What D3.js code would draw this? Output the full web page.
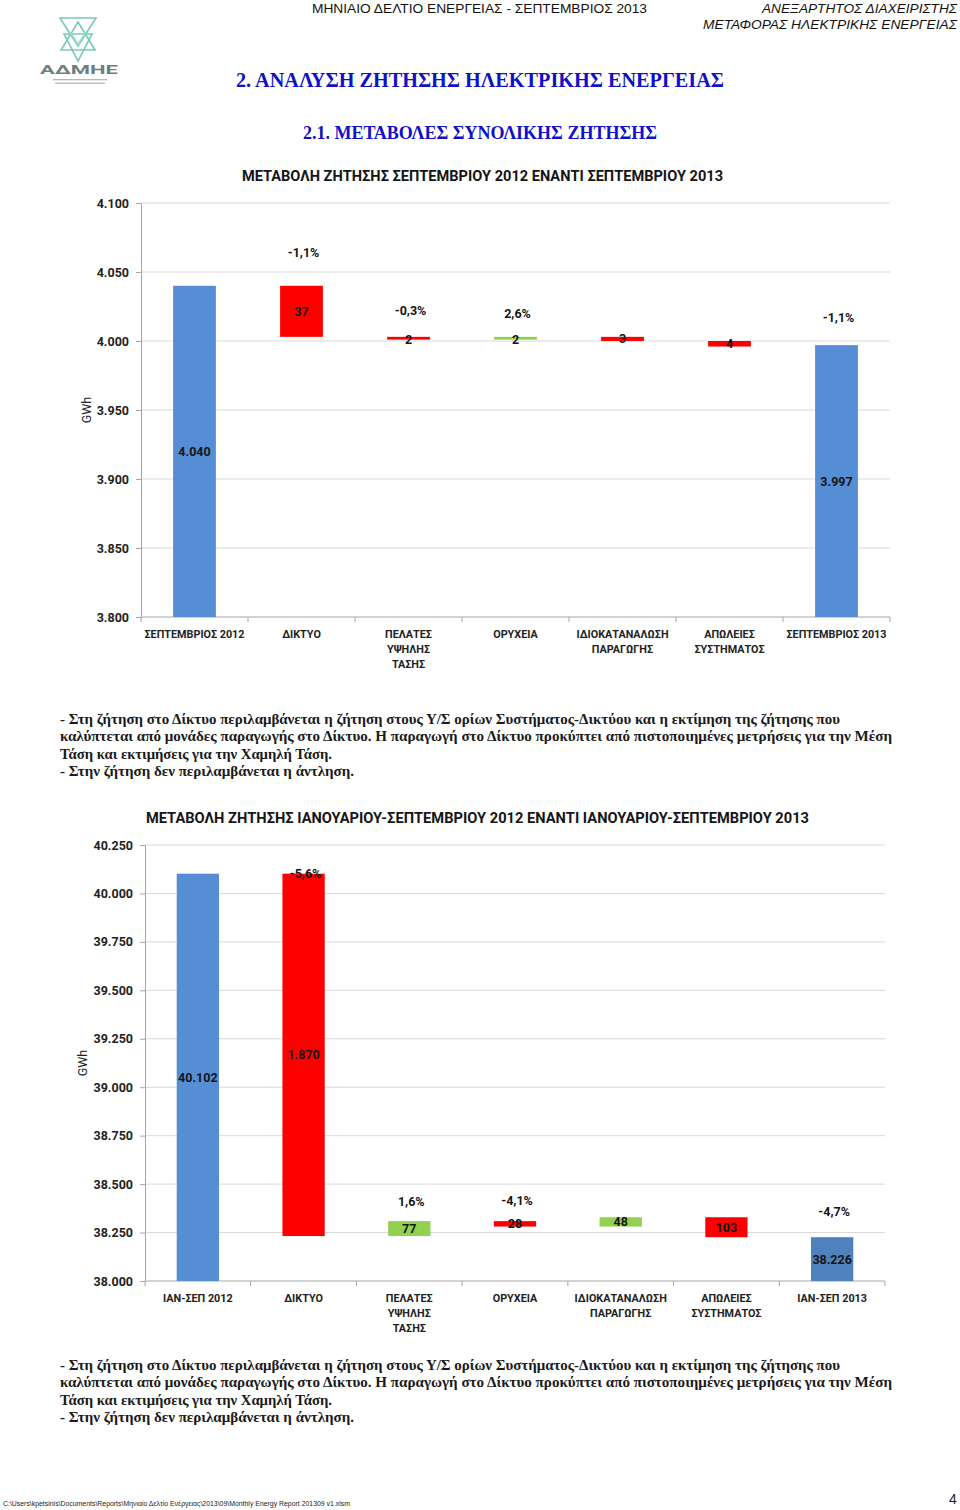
<!DOCTYPE html>
<html><head><meta charset="utf-8">
<script src="https://cdn.jsdelivr.net/npm/d3@7"></script>
<style>body{margin:0;background:#fff}svg{display:block}</style>
</head><body><div id="c"></div>
<script>
// ---------------- DATA ----------------
const monthCategories = ["ΣΕΠΤΕΜΒΡΙΟΣ 2012","ΔΙΚΤΥΟ","ΠΕΛΑΤΕΣ|ΥΨΗΛΗΣ|ΤΑΣΗΣ","ΟΡΥΧΕΙΑ","ΙΔΙΟΚΑΤΑΝΑΛΩΣΗ|ΠΑΡΑΓΩΓΗΣ","ΑΠΩΛΕΙΕΣ|ΣΥΣΤΗΜΑΤΟΣ","ΣΕΠΤΕΜΒΡΙΟΣ 2013"];
const monthStart = 4040;
const monthDeltas = [-37, -2, 2, -3, -4];
const monthEnd = 3997;
const monthPct = [null, "-1,1%", "-0,3%", "2,6%", null, null, "-1,1%"];
const monthPctLevel = [null, 4064, 4022, 4020, null, null, 4017];
const monthTicks = [3800, 3850, 3900, 3950, 4000, 4050, 4100];

const ytdCategories = ["ΙΑΝ-ΣΕΠ 2012","ΔΙΚΤΥΟ","ΠΕΛΑΤΕΣ|ΥΨΗΛΗΣ|ΤΑΣΗΣ","ΟΡΥΧΕΙΑ","ΙΔΙΟΚΑΤΑΝΑΛΩΣΗ|ΠΑΡΑΓΩΓΗΣ","ΑΠΩΛΕΙΕΣ|ΣΥΣΤΗΜΑΤΟΣ","ΙΑΝ-ΣΕΠ 2013"];
const ytdStart = 40102;
const ytdDeltas = [-1870, 77, -28, 48, -103];
const ytdEnd = 38226;
const ytdPct = [null, "-5,6%", "1,6%", "-4,1%", null, null, "-4,7%"];
const ytdPctLevel = [null, 40102, 38408, 38413, null, null, 38361];
const ytdTicks = [38000, 38250, 38500, 38750, 39000, 39250, 39500, 39750, 40000, 40250];

const notesLines = [
  "- Στη ζήτηση στο Δίκτυο περιλαμβάνεται η ζήτηση στους Υ/Σ ορίων Συστήματος-Δικτύου και η εκτίμηση της ζήτησης που",
  "καλύπτεται από μονάδες παραγωγής στο Δίκτυο. Η παραγωγή στο Δίκτυο προκύπτει από πιστοποιημένες μετρήσεις για την Μέση",
  "Τάση και εκτιμήσεις για την Χαμηλή Τάση.",
  "- Στην ζήτηση δεν περιλαμβάνεται η άντληση."
];

// ---------------- SETUP ----------------
const W = 960, H = 1510;
const SANS = "Roboto, 'Noto Sans', 'Liberation Sans', sans-serif";
const SERIF = "'Liberation Serif', 'DejaVu Serif', serif";
const NARROW = "'Liberation Sans Narrow', 'Liberation Sans', sans-serif";
const loc = d3.formatLocale({decimal: ",", thousands: ".", grouping: [3], currency: ["", ""]});
const fmt = loc.format(",d");

const svg = d3.select("#c").append("svg").attr("width", W).attr("height", H);
svg.append("rect").attr("width", W).attr("height", H).attr("fill", "#fff");

function fit(sel, width) {
  const n = sel.node();
  const len = n.getComputedTextLength();
  if (Math.abs(len - width) > 1) sel.attr("textLength", width).attr("lengthAdjust", "spacingAndGlyphs");
  return sel;
}

// ---------------- HEADER ----------------
fit(svg.append("text").attr("x", 312).attr("y", 8.5).attr("dominant-baseline", "central")
  .attr("font-family", NARROW).attr("font-size", 13.5).attr("fill", "#111")
  .text("ΜΗΝΙΑΙΟ ΔΕΛΤΙΟ ΕΝΕΡΓΕΙΑΣ - ΣΕΠΤΕΜΒΡΙΟΣ 2013"), 335);
fit(svg.append("text").attr("x", 762).attr("y", 8).attr("dominant-baseline", "central")
  .attr("font-family", NARROW).attr("font-style", "italic").attr("font-size", 13.5).attr("fill", "#111")
  .text("ΑΝΕΞΑΡΤΗΤΟΣ ΔΙΑΧΕΙΡΙΣΤΗΣ"), 195);
fit(svg.append("text").attr("x", 703).attr("y", 24).attr("dominant-baseline", "central")
  .attr("font-family", NARROW).attr("font-style", "italic").attr("font-size", 13.5).attr("fill", "#111")
  .text("ΜΕΤΑΦΟΡΑΣ ΗΛΕΚΤΡΙΚΗΣ ΕΝΕΡΓΕΙΑΣ"), 254);

// logo
const logo = svg.append("g").attr("fill", "none").attr("stroke", "#79c9b9").attr("stroke-width", 1.6);
logo.append("path").attr("d", "M60,18 L96,18 L78,46 Z");
logo.append("path").attr("d", "M78,22 L95,50 L61,50 Z");
logo.append("path").attr("d", "M64,34 L92,34 L78,61 Z");
logo.append("path").attr("d", "M70,32 L78,44 L86,32").attr("stroke", "#a6dccf");
fit(svg.append("text").attr("x", 40).attr("y", 69.5).attr("dominant-baseline", "central")
  .attr("font-family", SANS).attr("font-weight", "bold").attr("font-size", 12.5).attr("fill", "#6f7f80")
  .text("ΑΔΜΗΕ"), 78);
svg.append("rect").attr("x", 53).attr("y", 79).attr("width", 54).attr("height", 1.3).attr("fill", "#b0b8b8");
svg.append("rect").attr("x", 55).attr("y", 82.5).attr("width", 50).attr("height", 1.3).attr("fill", "#b0b8b8");

// section titles
fit(svg.append("text").attr("x", 236).attr("y", 80).attr("dominant-baseline", "central")
  .attr("font-family", SERIF).attr("font-weight", "bold").attr("font-size", 21).attr("fill", "#1010c8")
  .text("2. ΑΝΑΛΥΣΗ ΖΗΤΗΣΗΣ ΗΛΕΚΤΡΙΚΗΣ ΕΝΕΡΓΕΙΑΣ"), 488);
fit(svg.append("text").attr("x", 303).attr("y", 132).attr("dominant-baseline", "central")
  .attr("font-family", SERIF).attr("font-weight", "bold").attr("font-size", 19).attr("fill", "#1010c8")
  .text("2.1. ΜΕΤΑΒΟΛΕΣ ΣΥΝΟΛΙΚΗΣ ΖΗΤΗΣΗΣ"), 354);

// ---------------- WATERFALL ----------------
function waterfall(cfg) {
  const g = svg.append("g");
  const y = d3.scaleLinear().domain([cfg.ticks[0], cfg.ticks[cfg.ticks.length - 1]]).range([cfg.yBot, cfg.yTop]);
  const x = d3.scaleBand().domain(cfg.categories).range([cfg.x0, cfg.x1]).paddingInner(0.6).paddingOuter(0.3);
  const step = x.step();
  const base = y.domain()[0];

  // gridlines
  g.append("g").selectAll("line").data(cfg.ticks.slice(1)).join("line")
    .attr("x1", cfg.x0).attr("x2", cfg.x1).attr("y1", d => y(d)).attr("y2", d => y(d))
    .attr("stroke", "#d9d9d9").attr("stroke-width", 1);

  // y axis
  const ya = g.append("g").attr("transform", `translate(${cfg.x0},0)`)
    .call(d3.axisLeft(y).tickValues(cfg.ticks).tickFormat(fmt).tickSize(5).tickPadding(7));
  ya.select(".domain").attr("stroke", "#a6a6a6");
  ya.selectAll(".tick line").attr("stroke", "#a6a6a6");
  ya.selectAll(".tick text").attr("font-family", SANS).attr("font-weight", "bold").attr("font-size", 12.5).attr("fill", "#222");

  // x axis line + boundary ticks
  g.append("line").attr("x1", cfg.x0).attr("x2", cfg.x1).attr("y1", cfg.yBot).attr("y2", cfg.yBot).attr("stroke", "#a6a6a6");
  g.append("g").selectAll("line").data(d3.range(cfg.categories.length + 1)).join("line")
    .attr("x1", i => cfg.x0 + i * step).attr("x2", i => cfg.x0 + i * step)
    .attr("y1", cfg.yBot).attr("y2", cfg.yBot + 5).attr("stroke", "#a6a6a6");

  // category labels
  const cl = g.append("g").selectAll("text").data(cfg.categories).join("text")
    .attr("x", d => x(d) + x.bandwidth() / 2).attr("y", cfg.yBot + 17)
    .attr("text-anchor", "middle").attr("dominant-baseline", "central")
    .attr("font-family", SANS).attr("font-weight", "bold").attr("font-size", 10.8).attr("fill", "#222");
  cl.each(function (d) {
    d3.select(this).selectAll("tspan").data(d.split("|")).join("tspan")
      .attr("x", x(d) + x.bandwidth() / 2).attr("dy", (t, i) => i ? 15 : 0).text(t => t);
  });

  // steps
  const steps = [];
  let cum = cfg.start;
  steps.push({cat: cfg.categories[0], lo: base, hi: cfg.start, label: fmt(cfg.start), color: "#558ed5"});
  cfg.deltas.forEach((d, i) => {
    const a = cum, b = cum + d;
    steps.push({cat: cfg.categories[i + 1], lo: Math.min(a, b), hi: Math.max(a, b), label: fmt(Math.abs(d)), color: d < 0 ? "#ff0000" : "#92d050"});
    cum = b;
  });
  steps.push({cat: cfg.categories[cfg.categories.length - 1], lo: base, hi: cfg.end, label: fmt(cfg.end), color: cfg.endColor});

  g.append("g").selectAll("rect").data(steps).join("rect")
    .attr("x", d => x(d.cat)).attr("width", x.bandwidth())
    .attr("y", d => y(d.hi)).attr("height", d => Math.max(2.5, y(d.lo) - y(d.hi)))
    .attr("fill", d => d.color);

  g.append("g").selectAll("text").data(steps).join("text")
    .attr("x", d => x(d.cat) + x.bandwidth() / 2)
    .attr("y", d => (y(d.lo) + y(d.hi)) / 2 + (y(d.lo) - y(d.hi) < 4 ? 1 : 0))
    .attr("text-anchor", "middle").attr("dominant-baseline", "central")
    .attr("font-family", SANS).attr("font-weight", "bold").attr("font-size", 12.5).attr("fill", "#151515")
    .text(d => d.label);

  // percentage labels
  const pct = cfg.categories.map((c, i) => ({cat: c, t: cfg.pct[i], v: cfg.pctLevel[i]})).filter(d => d.t);
  g.append("g").selectAll("text").data(pct).join("text")
    .attr("x", d => x(d.cat) + x.bandwidth() / 2 + 2).attr("y", d => y(d.v))
    .attr("text-anchor", "middle").attr("dominant-baseline", "central")
    .attr("font-family", SANS).attr("font-weight", "bold").attr("font-size", 12.5).attr("fill", "#151515")
    .text(d => d.t);

  // GWh
  g.append("text").attr("transform", `translate(${cfg.gwhX},${cfg.gwhY}) rotate(-90)`)
    .attr("text-anchor", "middle").attr("dominant-baseline", "central")
    .attr("font-family", SANS).attr("font-size", 12.5).attr("fill", "#222").text("GWh");

  // title
  fit(g.append("text").attr("x", cfg.titleX).attr("y", cfg.titleY).attr("dominant-baseline", "central")
    .attr("font-family", SANS).attr("font-weight", "bold").attr("font-size", cfg.titleSize).attr("fill", "#151515")
    .text(cfg.title), cfg.titleW);
}

waterfall({
  categories: monthCategories, start: monthStart, deltas: monthDeltas, end: monthEnd,
  pct: monthPct, pctLevel: monthPctLevel, ticks: monthTicks,
  x0: 141, x1: 890, yTop: 203, yBot: 617, endColor: "#558ed5",
  gwhX: 86, gwhY: 410,
  title: "ΜΕΤΑΒΟΛΗ ΖΗΤΗΣΗΣ ΣΕΠΤΕΜΒΡΙΟΥ 2012 ΕΝΑΝΤΙ ΣΕΠΤΕΜΒΡΙΟΥ 2013", titleX: 242, titleY: 176, titleSize: 14.5, titleW: 481
});
waterfall({
  categories: ytdCategories, start: ytdStart, deltas: ytdDeltas, end: ytdEnd,
  pct: ytdPct, pctLevel: ytdPctLevel, ticks: ytdTicks,
  x0: 145, x1: 885, yTop: 845, yBot: 1281, endColor: "#4f81bd",
  gwhX: 82, gwhY: 1063,
  title: "ΜΕΤΑΒΟΛΗ ΖΗΤΗΣΗΣ ΙΑΝΟΥΑΡΙΟΥ-ΣΕΠΤΕΜΒΡΙΟΥ 2012 ΕΝΑΝΤΙ ΙΑΝΟΥΑΡΙΟΥ-ΣΕΠΤΕΜΒΡΙΟΥ 2013", titleX: 146, titleY: 818, titleSize: 15, titleW: 663
});

// ---------------- NOTES ----------------
const noteWidths = [780, 832, 272, 294];
function notes(yTop) {
  notesLines.forEach((t, i) => {
    fit(svg.append("text").attr("x", 60).attr("y", yTop + i * 17.3).attr("dominant-baseline", "central")
      .attr("font-family", SERIF).attr("font-weight", "bold").attr("font-size", 14.5).attr("fill", "#1a1a1a")
      .text(t), noteWidths[i]);
  });
}
notes(719);
notes(1365);

// ---------------- FOOTER ----------------
fit(svg.append("text").attr("x", 3).attr("y", 1503).attr("dominant-baseline", "central")
  .attr("font-family", "'Liberation Sans', sans-serif").attr("font-size", 7).attr("fill", "#222")
  .text("C:\\Users\\kpetsinis\\Documents\\Reports\\Μηνιαίο Δελτίο Ενέργειας\\2013\\09\\Monthly Energy Report 201309 v1.xlsm"), 347);
svg.append("text").attr("x", 953).attr("y", 1499).attr("text-anchor", "middle").attr("dominant-baseline", "central")
  .attr("font-family", NARROW).attr("font-size", 14).attr("fill", "#222").text("4");
</script>
</body></html>
